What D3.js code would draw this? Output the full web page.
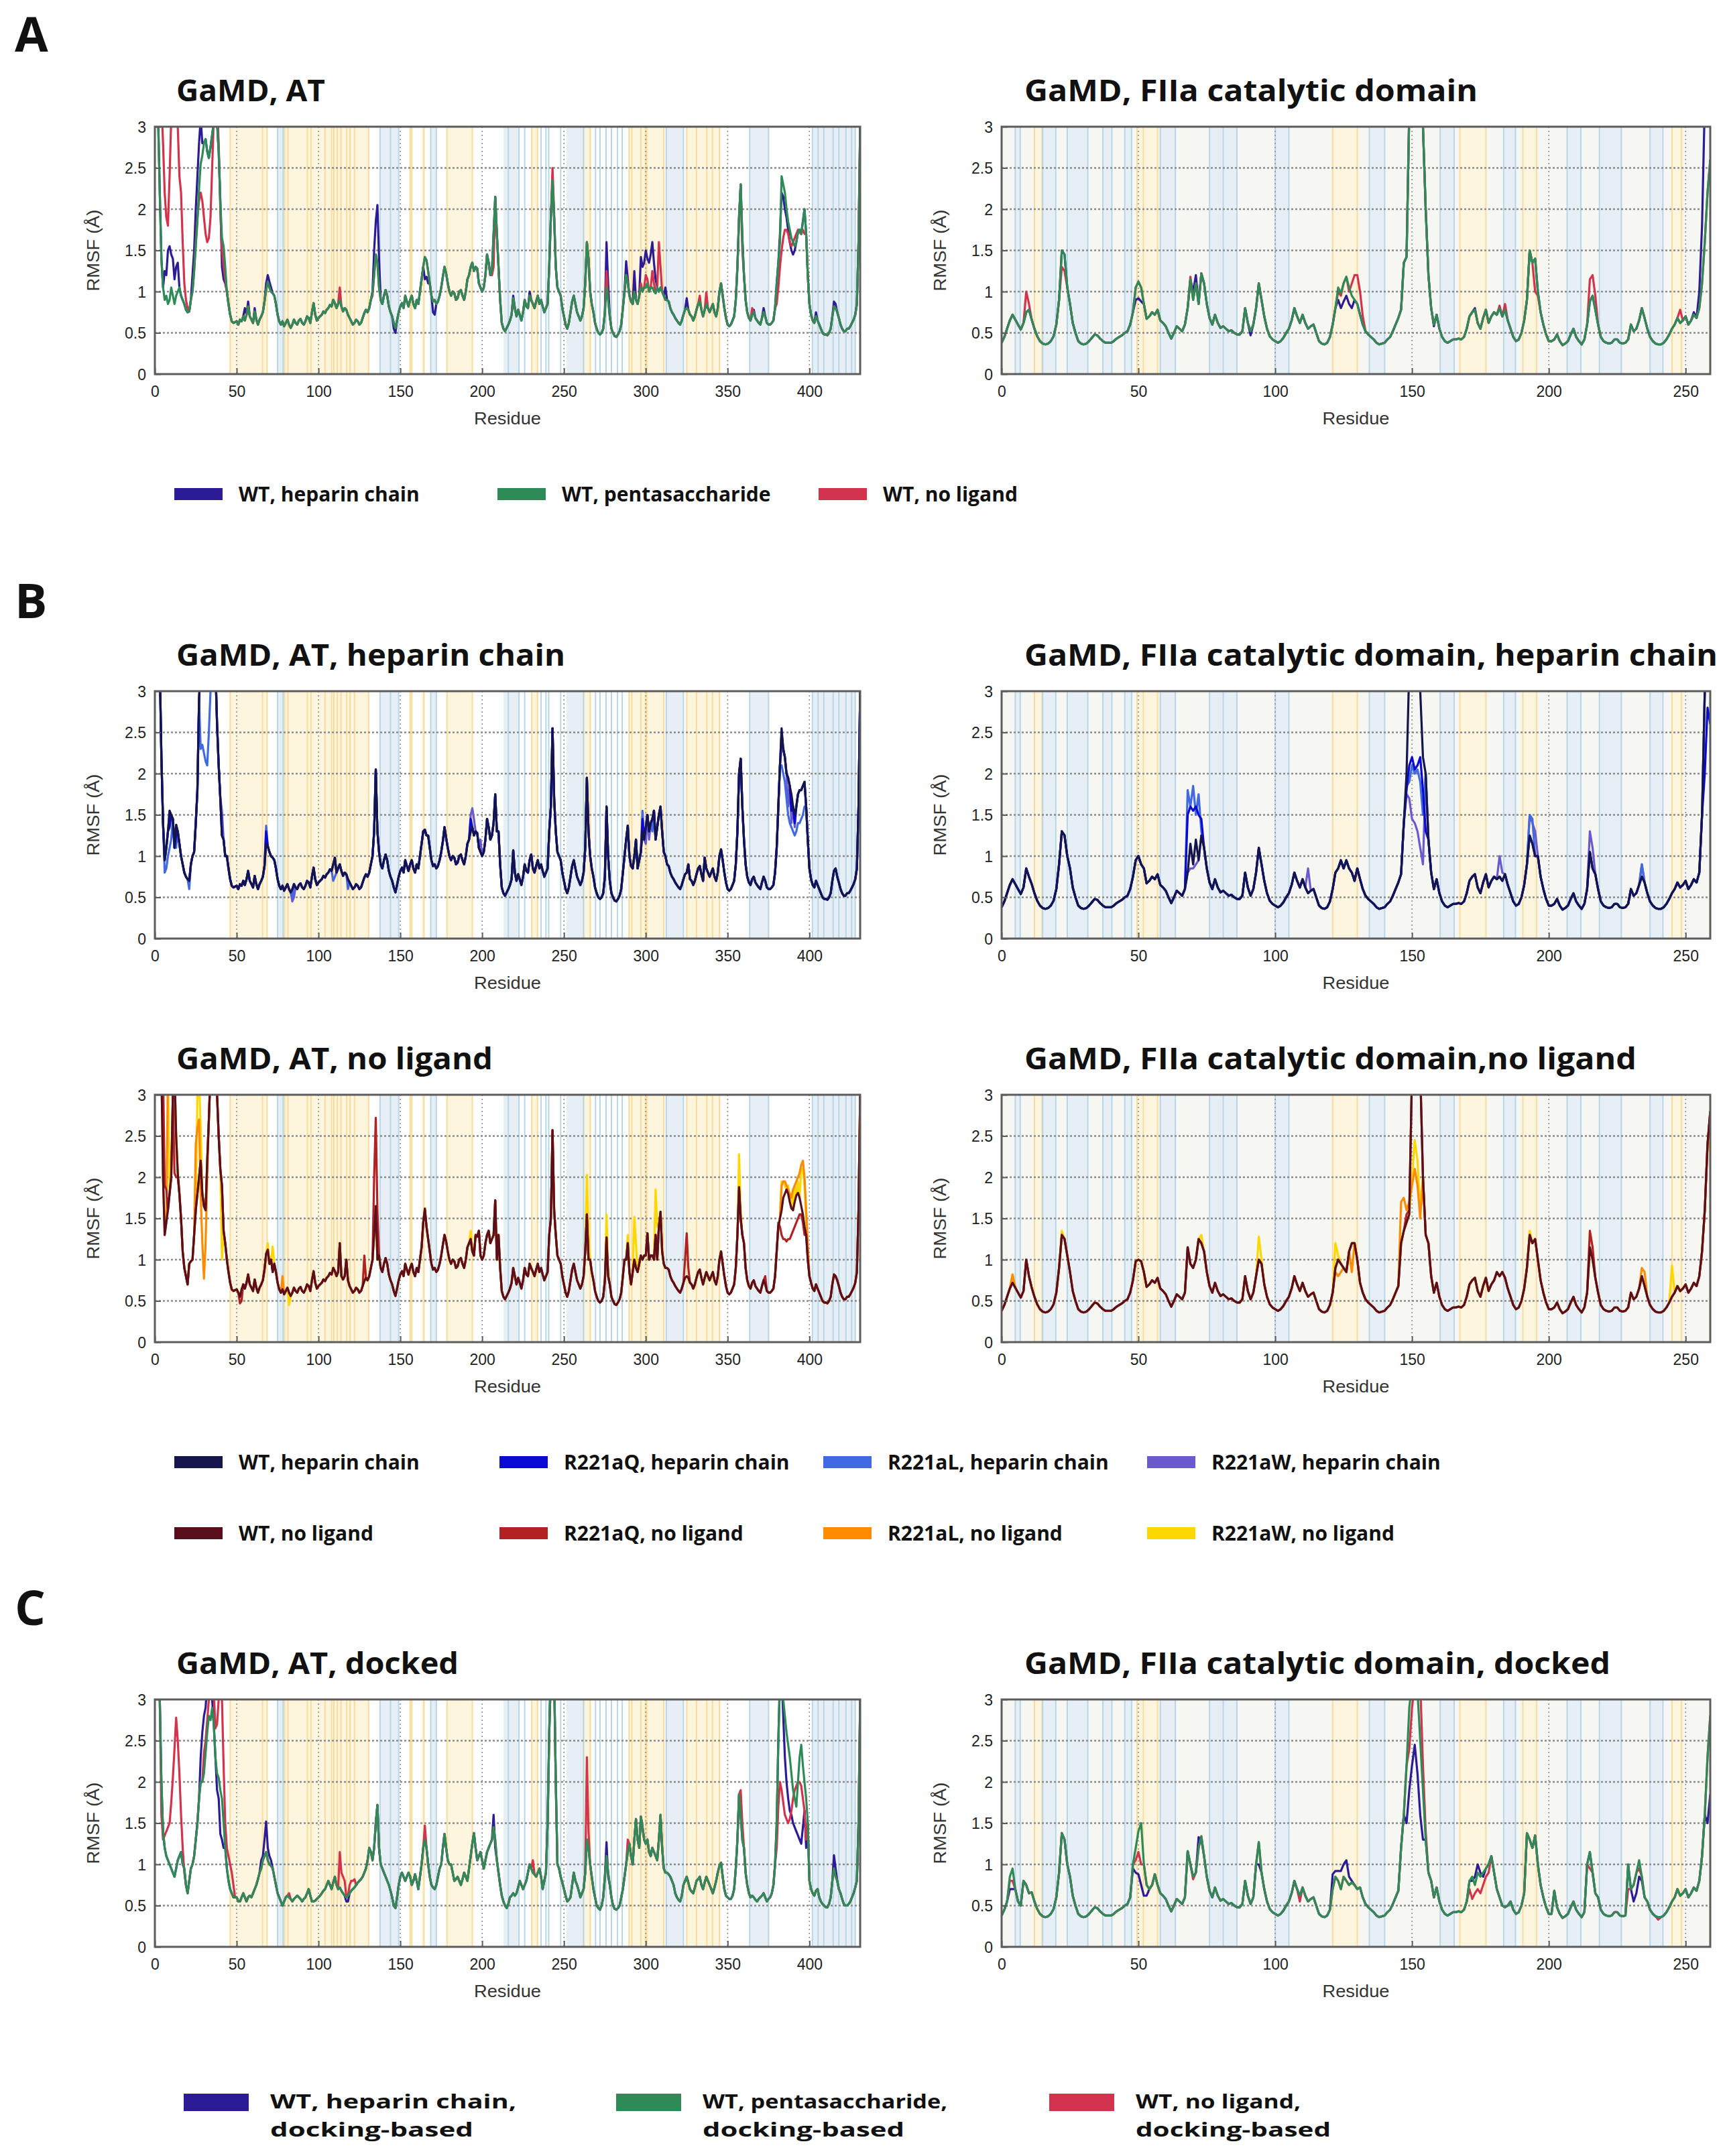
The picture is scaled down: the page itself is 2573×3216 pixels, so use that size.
<!DOCTYPE html>
<html><head><meta charset="utf-8">
<script src="https://cdn.jsdelivr.net/npm/d3@7"></script>
<style>body{margin:0;background:#fff}svg{display:block}</style>
</head><body>
<svg id="chart" width="2573" height="3216"></svg>
<script>
// ================= DATA =================
const AT_TICKS = [0,50,100,150,200,250,300,350,400];
const FIIA_TICKS = [0,50,100,150,200,250];
const Y_TICKS = [0,0.5,1,1.5,2,2.5,3];
const AT_MAX = 431, FIIA_MAX = 259;

// AT RMSF, residues 1..431 (GaMD, WT pentasaccharide)
const AT_BASE = [
3.2,3.1,2.2,1.4,1.05,0.9,0.95,0.85,0.9,1.05,
0.95,0.85,0.95,1.0,1.05,0.95,0.9,0.85,0.78,0.75,
0.76,0.9,1.0,1.25,1.55,1.85,2.25,2.55,2.65,2.8,
2.85,2.7,2.62,2.75,2.9,3.05,3.1,3.05,2.7,2.1,
1.65,1.55,1.3,1.0,0.85,0.72,0.64,0.62,0.63,0.64,
0.6,0.66,0.64,0.7,0.65,0.72,0.82,0.7,0.66,0.62,
0.76,0.66,0.6,0.66,0.7,0.75,0.88,1.02,1.12,1.05,
1.0,0.98,0.95,0.85,0.72,0.64,0.6,0.64,0.58,0.62,
0.66,0.6,0.56,0.6,0.66,0.62,0.6,0.65,0.67,0.62,
0.6,0.64,0.7,0.68,0.62,0.75,0.86,0.72,0.65,0.68,
0.7,0.72,0.76,0.74,0.78,0.8,0.84,0.82,0.9,0.86,
0.8,0.85,0.9,0.82,0.76,0.8,0.78,0.72,0.68,0.64,
0.6,0.62,0.66,0.64,0.6,0.62,0.68,0.74,0.78,0.75,
0.8,0.9,1.0,1.2,1.45,1.35,1.05,0.9,0.85,0.95,
1.02,0.95,0.82,0.75,0.7,0.62,0.56,0.65,0.75,0.82,
0.86,0.8,0.95,0.88,0.82,0.9,0.95,0.85,0.8,0.9,
0.85,1.0,1.15,1.3,1.42,1.38,1.25,1.1,0.95,0.88,
0.9,0.85,0.88,0.95,1.05,1.18,1.3,1.22,1.1,1.0,
0.95,1.0,0.98,0.9,0.92,1.0,1.02,0.95,0.9,1.0,
1.15,1.2,1.3,1.35,1.25,1.3,1.28,1.1,1.05,1.0,
1.05,1.2,1.45,1.35,1.2,1.25,1.7,2.15,1.7,1.3,
0.9,0.62,0.55,0.52,0.56,0.6,0.65,0.72,0.92,0.8,
0.7,0.78,0.72,0.65,0.75,0.9,0.82,0.8,0.95,0.9,
0.85,0.8,0.88,0.95,0.85,0.9,0.82,0.75,0.8,0.85,
1.3,1.9,2.35,1.9,1.3,1.05,1.0,0.95,0.8,0.7,
0.6,0.55,0.62,0.75,0.88,0.95,0.85,0.75,0.7,0.65,
0.7,0.8,1.1,1.6,1.4,1.0,0.85,0.75,0.62,0.55,
0.5,0.48,0.5,0.55,0.75,1.05,0.9,0.7,0.55,0.5,
0.46,0.45,0.48,0.52,0.6,0.8,1.0,1.2,1.1,0.95,
0.88,0.85,1.0,0.9,0.85,0.95,1.05,1.0,1.05,1.05,
1.1,1.0,1.05,1.05,1.0,0.98,1.05,1.0,1.05,1.0,
0.95,0.9,0.9,0.88,0.8,0.75,0.72,0.68,0.65,0.62,
0.6,0.65,0.72,0.78,0.8,0.78,0.72,0.7,0.65,0.7,
0.78,0.85,0.88,0.78,0.7,0.78,0.85,0.8,0.75,0.8,
0.85,0.75,0.7,0.8,1.0,1.1,0.95,0.8,0.68,0.6,
0.58,0.6,0.65,0.7,0.9,1.3,1.9,2.3,1.65,1.2,
0.9,0.75,0.68,0.65,0.72,0.75,0.68,0.65,0.62,0.6,
0.68,0.75,0.7,0.62,0.6,0.6,0.62,0.65,0.8,1.1,
1.35,1.6,2.4,2.3,2.2,2.0,1.85,1.75,1.65,1.6,
1.55,1.6,1.72,1.75,1.7,1.85,2.0,1.7,1.2,0.85,
0.72,0.65,0.62,0.7,0.65,0.6,0.55,0.5,0.48,0.48,
0.47,0.5,0.55,0.7,0.82,0.8,0.75,0.68,0.6,0.55,
0.52,0.52,0.55,0.55,0.58,0.62,0.66,0.72,0.85,1.6,
3.0];

// AT RMSF docked, residues 1..431 (WT pentasaccharide, docking-based)
const AT_C_PENTA = [
3.3,3.3,3.0,2.0,1.4,1.2,1.1,1.05,1.0,0.95,
0.9,0.85,0.95,1.05,1.1,1.15,1.0,0.95,0.75,0.65,
0.8,0.95,1.0,1.1,1.3,1.5,1.8,2.0,2.0,2.1,
2.35,2.6,2.8,2.75,2.9,2.7,2.3,2.1,2.05,1.9,
1.8,1.5,1.2,0.95,0.8,0.7,0.65,0.6,0.6,0.6,
0.55,0.55,0.6,0.65,0.6,0.55,0.6,0.62,0.6,0.65,
0.7,0.75,0.82,0.9,0.95,1.05,1.1,1.15,1.05,1.0,
0.98,0.95,0.85,0.75,0.65,0.6,0.55,0.5,0.55,0.6,
0.62,0.6,0.58,0.55,0.58,0.6,0.62,0.6,0.58,0.55,
0.58,0.6,0.65,0.7,0.62,0.55,0.55,0.56,0.58,0.6,
0.62,0.65,0.68,0.7,0.75,0.8,0.75,0.7,0.78,0.85,
0.75,0.7,0.72,0.68,0.65,0.62,0.6,0.62,0.65,0.68,
0.7,0.72,0.75,0.78,0.8,0.82,0.85,0.9,0.95,1.05,
1.2,1.15,1.05,1.2,1.5,1.72,1.2,1.0,0.95,0.9,
0.85,0.8,0.75,0.68,0.6,0.5,0.47,0.6,0.75,0.85,
0.9,0.85,0.8,0.85,0.9,0.85,0.75,0.8,0.88,0.8,
0.7,0.85,1.0,1.2,1.3,1.2,1.0,0.85,0.75,0.72,
0.7,0.75,0.85,0.95,1.0,1.2,1.37,1.2,1.05,1.0,
1.0,0.9,0.8,0.82,0.85,0.8,0.75,0.82,0.9,0.85,
0.8,0.95,1.1,1.25,1.38,1.2,1.05,1.1,1.15,1.05,
0.95,1.05,1.15,1.2,1.25,1.3,1.45,1.3,1.05,0.9,
0.75,0.62,0.55,0.5,0.47,0.52,0.6,0.62,0.65,0.62,
0.65,0.72,0.8,0.75,0.7,0.75,0.8,0.9,1.0,0.95,
0.9,0.88,0.85,0.9,0.95,0.85,0.7,0.8,0.9,1.5,
2.6,3.3,3.3,3.3,2.0,1.0,0.95,0.85,0.78,0.7,
0.62,0.55,0.57,0.6,0.75,0.9,0.8,0.75,0.68,0.6,
0.65,0.7,0.9,1.3,1.2,1.0,0.85,0.7,0.6,0.5,
0.47,0.45,0.5,0.6,0.85,1.1,0.9,0.75,0.6,0.5,
0.46,0.45,0.47,0.5,0.6,0.7,0.85,1.0,1.15,1.25,
1.1,1.0,1.3,1.55,1.3,1.2,1.58,1.45,1.3,1.25,
1.3,1.15,1.1,1.2,1.15,1.1,1.05,1.3,1.6,1.2,
0.95,0.9,0.9,0.88,0.85,0.8,0.75,0.65,0.6,0.57,
0.55,0.62,0.75,0.8,0.85,0.78,0.7,0.67,0.65,0.72,
0.8,0.82,0.85,0.75,0.7,0.78,0.85,0.8,0.75,0.7,
0.65,0.72,0.8,0.9,0.98,1.02,0.85,0.7,0.62,0.6,
0.58,0.58,0.62,0.7,0.95,1.3,1.85,1.6,1.3,1.2,
0.9,0.75,0.65,0.6,0.62,0.6,0.57,0.55,0.58,0.6,
0.62,0.65,0.6,0.55,0.58,0.6,0.65,0.75,1.0,1.5,
2.5,3.2,3.2,3.0,2.8,2.6,2.45,2.3,2.1,1.9,
1.8,1.7,2.0,2.3,2.45,2.2,2.0,1.8,1.5,0.8,
0.7,0.65,0.62,0.68,0.7,0.6,0.55,0.52,0.5,0.48,
0.48,0.52,0.6,0.8,0.95,0.85,0.8,0.7,0.65,0.58,
0.52,0.5,0.5,0.52,0.55,0.6,0.65,0.72,0.8,1.5,
3.0];

// Panel A, AT: differences of the other two runs [residue, RMSF]
const AT_A_HEP_OV = [[6,1.25],[7,1.2],[8,1.5],[9,1.55],[10,1.45],[11,1.4],[12,1.15],[13,1.3],[14,1.35],[15,1.05],[16,0.95],[23,1.2],[24,1.5],[25,2.0],[26,2.4],[27,2.8],[28,3.1],[29,2.8],[41,1.3],[42,1.15],[43,1.1],[55,0.8],[57,0.88],[61,0.8],[68,1.1],[69,1.2],[70,1.12],[71,1.05],[134,1.5],[135,1.85],[136,2.05],[137,1.4],[146,0.55],[147,0.5],[165,1.15],[166,1.18],[167,1.1],[170,0.75],[171,0.72],[219,0.95],[229,1.0],[276,1.6],[277,1.1],[288,1.37],[289,1.15],[293,1.25],[297,1.42],[298,1.3],[299,1.35],[300,1.5],[301,1.4],[302,1.35],[303,1.45],[304,1.6],[305,1.35],[306,1.15],[312,1.05],[325,0.92],[366,0.78],[372,0.8],[382,1.7],[383,2.2],[384,2.15],[385,2.0],[386,1.9],[387,1.75],[388,1.6],[389,1.5],[390,1.45],[391,1.5],[404,0.75],[415,0.88],[416,0.85]];
const AT_A_NOLIG_OV = [[2,3.3],[3,3.3],[4,3.3],[5,2.8],[6,2.2],[7,1.9],[8,1.8],[9,2.4],[10,3.1],[11,3.3],[12,3.3],[13,3.3],[14,3.0],[15,2.4],[16,2.2],[17,1.6],[18,1.1],[19,0.9],[20,0.8],[25,1.6],[26,1.9],[27,2.1],[28,2.2],[29,2.1],[30,1.9],[31,1.7],[32,1.6],[33,1.65],[34,1.9],[35,2.5],[36,3.1],[37,3.3],[38,3.3],[39,2.8],[40,2.0],[41,1.5],[42,1.3],[43,1.15],[113,1.05],[133,0.95],[206,1.2],[207,1.3],[243,2.5],[244,1.95],[276,1.25],[297,1.1],[300,1.2],[301,1.15],[304,1.25],[305,1.1],[308,1.6],[309,1.3],[333,0.95],[337,0.99],[359,1.5],[365,0.8],[380,0.85],[381,1.05],[382,1.3],[383,1.5],[384,1.65],[385,1.75],[386,1.75],[387,1.7],[388,1.6],[389,1.55],[390,1.6],[391,1.65],[392,1.7],[393,1.75],[394,1.72],[395,1.7],[396,1.75],[397,1.7]];

// Panel B (heparin chain), AT
const AT_B1_WT_OV = [[2,3.3],[3,3.3],[4,2.2],[5,1.4],[6,0.95],[7,1.1],[8,1.3],[9,1.55],[10,1.5],[11,1.45],[12,1.1],[13,1.38],[14,1.3],[15,1.15],[16,1.0],[17,0.9],[18,0.8],[19,0.75],[20,0.72],[21,0.7],[22,0.9],[23,1.0],[24,1.05],[25,1.4],[26,1.8],[27,2.9],[28,3.3],[29,3.3],[30,3.3],[31,3.3],[32,3.3],[33,3.3],[34,3.3],[35,3.3],[36,3.3],[37,3.3],[38,2.6],[39,2.1],[40,1.7],[41,1.25],[42,1.2],[43,1.0],[68,1.15],[110,0.98],[134,1.3],[135,2.05],[136,1.3],[165,1.32],[166,1.25],[177,1.35],[207,1.4],[208,1.75],[209,1.3],[219,1.07],[230,1.02],[242,1.6],[243,2.55],[244,1.7],[264,1.95],[265,1.3],[276,1.6],[277,1.0],[288,1.2],[289,1.37],[290,1.0],[294,1.2],[298,1.3],[299,1.2],[300,1.35],[301,1.5],[302,1.3],[303,1.4],[304,1.45],[305,1.55],[306,1.2],[307,1.35],[308,1.5],[309,1.6],[310,1.3],[311,1.05],[312,1.0],[326,0.9],[336,0.98],[346,1.08],[357,2.0],[358,2.18],[359,1.6],[381,1.6],[382,2.1],[383,2.55],[384,2.3],[385,2.2],[386,2.0],[387,1.95],[388,1.85],[389,1.75],[390,1.6],[391,1.5],[392,1.6],[393,1.75],[394,1.8],[395,1.8],[396,1.85],[397,1.9],[398,1.6],[399,1.2],[416,0.85]];
const AT_B1_Q_OV = [[9,1.35],[13,1.25],[68,1.3],[193,1.45],[298,1.45],[383,2.5],[389,1.55],[391,1.4]];
const AT_B1_L_OV = [[6,0.8],[7,0.85],[8,1.0],[9,1.1],[10,1.2],[13,1.1],[21,0.6],[28,2.3],[29,2.35],[30,2.25],[31,2.15],[32,2.1],[33,2.5],[34,3.0],[68,1.37],[84,0.5],[109,0.7],[110,0.75],[118,0.6],[298,1.55],[304,1.3],[383,2.1],[384,2.0],[385,1.9],[386,1.7],[387,1.5],[388,1.4],[389,1.35],[390,1.3],[391,1.25],[392,1.3],[393,1.4],[394,1.4],[395,1.45],[396,1.5],[397,1.6]];
const AT_B1_W_OV = [[40,1.7],[41,1.55],[84,0.45],[85,0.5],[193,1.5],[194,1.58],[195,1.45],[196,1.3],[199,1.2],[300,1.15],[302,1.2],[383,2.3],[387,1.6],[389,1.4],[391,1.35]];

// Panel B (no ligand), AT
const AT_B2_WT_OV = [[2,3.3],[3,3.3],[4,3.3],[5,2.0],[6,1.3],[7,1.45],[8,1.6],[9,1.8],[10,2.0],[11,3.0],[12,3.3],[13,2.5],[14,2.05],[15,1.8],[16,1.5],[17,1.1],[18,0.9],[19,0.8],[20,0.7],[21,0.95],[22,0.98],[23,1.0],[24,1.3],[25,1.6],[26,1.8],[27,2.0],[28,2.2],[29,1.8],[30,1.65],[31,1.6],[32,2.2],[33,2.7],[34,3.3],[35,3.3],[36,3.3],[37,3.3],[38,3.0],[39,2.5],[40,2.1],[41,1.9],[42,1.35],[43,1.2],[44,1.0],[52,0.55],[68,1.07],[70,0.95],[72,0.85],[113,1.2],[114,0.8],[117,1.0],[118,0.75],[134,1.3],[135,1.65],[136,1.0],[164,1.45],[165,1.62],[166,1.4],[177,1.3],[193,1.25],[194,1.1],[195,1.05],[198,1.35],[203,1.3],[207,1.3],[208,1.72],[209,1.0],[219,0.9],[242,1.5],[243,2.57],[244,1.6],[264,1.55],[265,1.0],[276,1.27],[277,0.8],[288,1.0],[289,1.2],[290,0.85],[291,0.7],[301,1.32],[306,1.3],[307,1.0],[308,1.4],[309,1.58],[310,1.1],[311,0.95],[357,1.88],[358,1.5],[359,1.3],[381,1.4],[382,1.5],[383,1.6],[384,1.75],[385,1.8],[386,1.85],[387,1.8],[388,1.7],[389,1.62],[390,1.6],[391,1.7],[392,1.78],[393,1.81],[394,1.75],[395,1.65],[396,1.55],[397,1.4],[398,1.3],[399,1.0],[400,0.8]];
const AT_B2_Q_OV = [[5,3.3],[6,1.9],[7,1.85],[10,2.0],[12,2.05],[13,2.0],[14,2.0],[52,0.47],[53,0.5],[128,1.05],[134,2.0],[135,2.72],[136,1.6],[165,1.6],[324,1.0],[325,1.32],[326,0.9],[373,0.8],[381,1.45],[382,1.4],[383,1.3],[384,1.25],[385,1.25],[386,1.22],[387,1.25],[388,1.25],[389,1.3],[390,1.35],[391,1.4],[392,1.45],[393,1.5],[394,1.55],[395,1.55],[396,1.45],[397,1.3]];
const AT_B2_L_OV = [[8,3.3],[9,3.3],[10,3.3],[25,2.4],[26,2.6],[27,2.7],[28,1.8],[29,1.2],[30,0.77],[31,1.2],[32,2.0],[78,0.8],[383,1.9],[384,1.95],[385,1.95],[386,1.9],[387,1.85],[388,1.8],[389,1.75],[390,1.85],[391,1.9],[392,1.95],[393,2.0],[394,2.05],[395,2.15],[396,2.2],[397,2.0],[398,1.6],[399,1.2]];
const AT_B2_W_OV = [[5,3.3],[6,3.2],[7,3.0],[8,3.3],[26,3.0],[27,3.2],[28,2.6],[41,1.0],[69,1.2],[72,1.16],[82,0.45],[193,1.35],[264,2.03],[265,1.3],[276,1.55],[277,0.9],[289,1.3],[293,1.52],[294,1.2],[306,1.85],[307,1.4],[357,2.28],[358,1.6],[383,1.95],[384,1.93],[385,1.9],[387,1.9],[389,1.8],[391,1.9],[393,1.95],[395,2.1],[396,2.1],[397,1.9],[398,1.5]];

// Panel C (docked), AT
const AT_C_HEP_OV = [[28,2.3],[29,2.6],[30,2.8],[31,2.9],[32,3.2],[33,3.3],[34,3.2],[35,3.0],[36,2.7],[37,2.3],[38,1.9],[39,1.8],[40,1.37],[41,1.3],[42,1.2],[65,1.05],[66,1.1],[67,1.3],[68,1.52],[69,1.2],[70,1.1],[71,1.05],[117,0.55],[118,0.55],[207,1.6],[208,1.2],[276,1.27],[277,0.85],[382,3.3],[383,3.3],[384,2.8],[385,2.3],[386,2.0],[387,1.8],[388,1.65],[389,1.6],[390,1.5],[391,1.45],[392,1.4],[393,1.35],[394,1.3],[395,1.25],[396,1.45],[397,1.65],[398,1.2],[415,1.11],[416,0.95]];
const AT_C_NOLIG_OV = [[4,1.6],[5,1.3],[6,1.35],[7,1.4],[8,1.45],[9,1.5],[10,1.75],[11,2.05],[12,2.4],[13,2.78],[14,2.5],[15,2.1],[16,1.6],[17,1.2],[18,0.9],[30,2.35],[31,2.5],[32,2.75],[33,3.0],[34,3.3],[35,3.3],[36,3.1],[37,2.65],[38,2.7],[39,3.0],[40,3.3],[41,3.0],[42,2.2],[43,1.5],[44,1.2],[45,1.1],[46,1.0],[47,0.9],[48,0.75],[82,0.65],[113,1.15],[114,0.9],[115,0.85],[116,0.8],[119,0.75],[120,0.8],[121,0.8],[122,0.82],[151,0.9],[165,1.47],[231,1.05],[264,2.3],[265,1.4],[289,1.3],[358,1.9],[359,1.5],[380,1.2],[381,1.7],[382,2.0],[383,1.9],[384,1.75],[385,1.6],[386,1.55],[387,1.5],[388,1.55],[389,1.65],[390,1.8],[391,1.9],[392,1.95],[393,2.0],[394,2.0],[395,1.95],[396,1.8],[397,1.65],[398,1.3]];

// FIIa catalytic domain RMSF, residues 0..259 (GaMD, WT pentasaccharide)
const FIIA_BASE = [
0.38,0.45,0.55,0.65,0.72,0.66,0.6,0.54,0.62,0.75,
0.78,0.66,0.55,0.46,0.4,0.37,0.36,0.37,0.4,0.46,
0.6,0.9,1.5,1.45,1.05,0.85,0.62,0.5,0.4,0.37,
0.36,0.37,0.4,0.44,0.48,0.47,0.43,0.4,0.38,0.38,
0.38,0.4,0.43,0.45,0.47,0.5,0.52,0.6,0.75,1.05,
1.12,1.05,0.85,0.67,0.7,0.75,0.72,0.78,0.65,0.62,
0.58,0.5,0.43,0.5,0.58,0.55,0.52,0.6,0.8,1.15,
0.9,1.1,0.85,1.22,1.1,0.85,0.68,0.6,0.72,0.62,
0.56,0.58,0.55,0.52,0.53,0.5,0.48,0.48,0.52,0.8,
0.62,0.52,0.6,0.8,1.1,0.9,0.7,0.55,0.46,0.42,
0.4,0.38,0.4,0.44,0.5,0.55,0.65,0.8,0.7,0.62,
0.72,0.62,0.55,0.58,0.6,0.5,0.4,0.37,0.36,0.38,
0.45,0.6,0.8,1.05,0.98,1.1,1.18,1.05,0.95,0.9,
0.85,0.72,0.6,0.52,0.48,0.45,0.42,0.38,0.36,0.37,
0.38,0.42,0.45,0.52,0.6,0.68,0.78,1.35,1.42,3.2,
3.3,3.3,3.3,3.2,3.0,2.0,1.2,0.8,0.6,0.72,
0.55,0.45,0.4,0.38,0.4,0.42,0.42,0.43,0.42,0.45,
0.55,0.7,0.75,0.78,0.62,0.55,0.68,0.78,0.62,0.7,
0.75,0.72,0.8,0.7,0.78,0.65,0.55,0.45,0.4,0.42,
0.5,0.65,0.9,1.5,1.35,1.4,1.0,0.75,0.6,0.48,
0.4,0.4,0.42,0.48,0.4,0.35,0.37,0.4,0.48,0.55,
0.45,0.4,0.36,0.42,0.6,0.88,0.95,0.78,0.6,0.45,
0.4,0.38,0.37,0.38,0.42,0.42,0.38,0.37,0.38,0.42,
0.6,0.52,0.55,0.65,0.8,0.68,0.55,0.45,0.4,0.37,
0.36,0.36,0.38,0.42,0.48,0.55,0.6,0.68,0.62,0.65,
0.7,0.6,0.65,0.72,0.68,0.8,1.1,1.6,2.2,2.6];

const FIIA_A_HEP_OV = [[49,0.9],[50,0.92],[51,0.88],[70,1.0],[71,1.2],[91,0.47],[123,0.9],[124,0.8],[125,0.88],[126,0.95],[127,0.85],[128,0.8],[158,0.58],[173,0.8],[253,0.75],[255,1.0],[256,1.8],[257,3.3],[258,3.3],[259,3.3]];
const FIIA_A_NOLIG_OV = [[9,1.0],[10,0.85],[22,1.3],[23,1.25],[69,1.18],[123,1.0],[124,0.95],[127,1.0],[128,1.1],[129,1.2],[130,1.2],[131,1.0],[132,0.7],[182,0.83],[184,0.85],[195,1.0],[196,0.95],[215,1.15],[216,1.2],[217,0.95],[248,0.78]];

const FIIA_B1_WT_OV = [[9,0.85],[10,0.75],[22,1.3],[23,1.25],[24,1.0],[49,0.95],[50,1.0],[51,0.9],[69,1.15],[70,0.9],[71,1.2],[72,0.95],[73,1.25],[123,0.85],[124,0.95],[125,0.85],[126,0.95],[127,0.85],[128,0.8],[129,0.7],[147,1.4],[148,2.0],[149,3.3],[150,3.3],[151,3.3],[152,3.3],[153,3.0],[154,2.2],[182,0.75],[193,1.25],[194,1.15],[195,1.0],[215,1.05],[216,0.85],[234,0.75],[256,1.5],[257,3.0],[258,3.3],[259,3.3]];
const FIIA_B1_Q_OV = [[68,1.5],[69,1.6],[70,1.55],[71,1.6],[72,1.5],[73,1.45],[148,1.8],[149,2.1],[150,2.2],[151,2.05],[152,2.1],[153,2.2],[154,1.8],[155,1.3],[257,2.0],[258,2.8],[259,2.6]];
const FIIA_B1_L_OV = [[68,1.8],[69,1.6],[70,1.85],[71,1.5],[72,1.75],[73,1.3],[148,1.85],[149,1.9],[150,2.1],[151,2.0],[152,2.05],[153,1.9],[154,1.5],[193,1.5],[194,1.45],[234,0.9]];
const FIIA_B1_W_OV = [[69,0.85],[70,0.85],[71,0.9],[112,0.85],[148,1.75],[149,1.7],[150,1.45],[151,1.4],[152,1.3],[153,1.1],[154,0.9],[182,1.0],[183,0.8],[193,1.5],[194,1.4],[195,1.3],[215,1.3],[216,1.1],[234,0.9]];

const FIIA_B2_WT_OV = [[9,1.0],[10,0.8],[22,1.3],[23,1.25],[24,1.05],[49,0.98],[50,1.0],[51,0.98],[68,1.15],[69,0.95],[70,0.9],[71,1.0],[72,1.25],[73,1.2],[94,1.0],[95,0.95],[122,0.9],[123,1.0],[124,0.95],[125,0.9],[126,0.85],[127,1.1],[128,1.2],[129,1.2],[130,1.0],[146,1.2],[147,1.35],[148,1.45],[149,1.55],[150,3.3],[151,3.3],[152,3.3],[153,3.3],[154,2.0],[155,1.3],[181,0.85],[182,0.8],[183,0.85],[193,1.3],[194,1.2],[195,1.25],[196,1.0],[215,1.15],[216,1.0],[234,0.8],[258,2.4],[259,2.8]];
const FIIA_B2_Q_OV = [[148,1.55],[149,1.6],[215,1.35],[216,1.15]];
const FIIA_B2_L_OV = [[4,0.82],[122,0.85],[123,0.8],[124,0.85],[128,0.85],[146,1.7],[147,1.75],[148,1.6],[149,1.7],[150,1.9],[151,2.1],[152,1.9],[153,1.5],[234,0.9],[235,0.85]];
const FIIA_B2_W_OV = [[4,0.82],[22,1.35],[73,1.3],[94,1.28],[95,1.0],[122,1.2],[123,1.05],[124,0.95],[150,2.0],[151,2.45],[152,2.2],[153,1.6],[193,1.35],[245,0.93],[246,0.6],[258,2.3],[259,2.5]];

const FIIA_C_PENTA_OV = [[3,0.85],[4,0.95],[5,0.7],[6,0.55],[7,0.5],[8,0.8],[9,0.75],[10,0.65],[22,1.38],[23,1.3],[24,1.0],[48,1.0],[49,1.2],[50,1.4],[51,1.5],[52,1.0],[53,0.75],[54,0.7],[56,0.88],[57,0.75],[68,1.16],[69,1.0],[70,0.85],[71,0.9],[72,1.2],[73,1.34],[74,1.1],[93,1.0],[94,1.27],[95,0.9],[121,0.7],[122,0.85],[123,0.8],[124,0.7],[125,0.85],[126,0.8],[127,0.75],[128,0.78],[129,0.75],[130,0.7],[146,1.2],[147,1.6],[148,2.2],[149,2.9],[150,3.2],[151,3.2],[152,3.1],[153,2.5],[154,1.9],[155,1.3],[156,0.9],[171,0.8],[172,0.85],[173,0.75],[174,0.9],[175,0.85],[176,0.9],[177,0.95],[178,1.0],[179,1.1],[180,0.9],[181,0.7],[182,0.6],[183,0.5],[184,0.48],[185,0.5],[192,1.38],[193,1.3],[194,1.2],[195,1.35],[196,1.0],[202,0.68],[214,1.0],[215,1.15],[216,0.9],[217,0.65],[229,1.0],[230,0.7],[231,0.75],[232,0.9],[233,1.05],[234,0.85],[235,0.6],[247,0.7],[257,1.6],[258,2.3],[259,2.8]];
const FIIA_C_HEP_OV = [[3,0.7],[4,0.7],[48,0.95],[49,0.9],[50,0.88],[51,0.75],[52,0.62],[53,0.62],[72,1.33],[73,1.3],[94,1.0],[121,0.88],[122,0.92],[123,0.92],[124,0.92],[125,1.0],[126,1.05],[127,0.85],[128,0.8],[148,1.5],[149,1.9],[150,2.2],[151,2.45],[152,2.1],[153,1.6],[154,1.3],[172,0.8],[173,0.85],[174,1.0],[175,0.9],[176,0.85],[231,0.55],[232,0.65],[233,0.85],[234,0.8],[258,1.5],[259,1.85]];
const FIIA_C_NOLIG_OV = [[3,0.8],[4,0.8],[49,1.05],[50,1.15],[51,1.0],[70,0.82],[109,0.55],[149,2.4],[150,2.9],[151,3.2],[152,3.3],[153,3.2],[154,2.2],[155,1.4],[171,0.7],[172,0.58],[173,0.65],[174,0.7],[175,0.65],[176,0.75],[177,0.85],[178,0.9],[215,0.95],[229,0.7],[233,0.95],[240,0.33]];

// Secondary structure shading (residue ranges)
const AT_HELIX = [[46,68.6],[79.2,130.6],[155.5,157],[163,165],[178.5,194],[230,234.5],[262,266.5],[289.5,311],[325,345.5]];
const AT_HELIX_EDGES = [46,65.8,68.6,79.2,81.3,93.2,95.4,104,108,109.4,111.5,113.7,117.2,119.3,122,130.6,156,157,164.4,178.5,194,230.3,233.8,262,266,289.8,291.5,297,299.8,300.6,311,325,331,337.3,340.8,345];
const AT_STRAND = [[75,78.4],[137.6,149],[168.6,172],[213,223],[251.5,262],[312.5,323],[363.5,375],[401.5,428]];
const AT_STRAND_EDGES = [75,78.4,137.6,144,149,168.6,172,216,222.5,226,236,239,240.7,248,262,269.3,272,275.7,279,282.7,285.6,312.5,323,363.5,375,401.8,405.3,408.8,414.5,418,422.3,425.8,428];
const FIIA_HELIX = [[12,14.8],[49.5,57.5],[121,130],[167.5,177],[190.5,195.5],[245,249]];
const FIIA_HELIX_EDGES = [12,14.8,49.5,51.8,57,121,130,167.5,177,190.5,195.5,245,248.5];
const FIIA_STRAND = [[5,6.8],[15,20],[24,31.5],[37,40.3],[45,47.5],[58,63.5],[76,86],[100,105],[134.4,140],[160.3,165.4],[183.5,188],[206.7,211.7],[218.5,226.5],[237,241.7]];
const FIIA_STRAND_EDGES = [5,6.8,15,19.8,24,31.5,37,40.3,45,47.5,58,63.5,76,81,86,100,105,134.4,140,160.3,165.4,183.5,187.8,206.7,211.7,218.5,226.5,237,241.7];

// Text
const TITLES = ["GaMD, AT","GaMD, FIIa catalytic domain","GaMD, AT, heparin chain","GaMD, FIIa catalytic domain, heparin chain","GaMD, AT, no ligand","GaMD, FIIa catalytic domain,no ligand","GaMD, AT, docked","GaMD, FIIa catalytic domain, docked"];
const LEGEND_A = ["WT, heparin chain","WT, pentasaccharide","WT, no ligand"];
const LEGEND_B1 = ["WT, heparin chain","R221aQ, heparin chain","R221aL, heparin chain","R221aW, heparin chain"];
const LEGEND_B2 = ["WT, no ligand","R221aQ, no ligand","R221aL, no ligand","R221aW, no ligand"];
const LEGEND_C = [["WT, heparin chain,","docking-based"],["WT, pentasaccharide,","docking-based"],["WT, no ligand,","docking-based"]];

// ================= STYLE / LAYOUT =================
const C_HEP = "#2b1b94", C_PENTA = "#2e8b57", C_NOLIG = "#d2334d";
const C_B1 = ["#15154d","#0a0ad2","#4169e1","#6a5acd"];
const C_B2 = ["#5a0f1c","#b22222","#ff8c00","#ffd700"];
const LAY = {leftX0:231, leftW:1052, rightX0:1494, rightW:1057, plotH:369,
  rows:[189,1031,1633,2535], titleXL:263, titleXR:1528,
  titleW:[222,676,580,1034,472,913,421,874],
  legCW:[[367,303],[365,301],[246,291]]};

function build(base, start, ...ovs){
  const m = new Map();
  base.forEach((v,i)=>m.set(i+start,v));
  ovs.forEach(ov=>ov.forEach(([r,v])=>m.set(r,v)));
  return Array.from(m,([r,v])=>({r,v})).sort((a,b)=>a.r-b.r);
}

const svg = d3.select("#chart");
svg.append("rect").attr("width",2573).attr("height",3216).attr("fill","#fff");
const defs = svg.append("defs");
let clipN = 0;

function drawPlot(o){
  const x = d3.scaleLinear().domain([0,o.max]).range([o.x0,o.x0+o.w]);
  const y = d3.scaleLinear().domain([0,3]).range([o.yTop+LAY.plotH,o.yTop]);
  const g = svg.append("g");
  const id = "clip"+(clipN++);
  defs.append("clipPath").attr("id",id).append("rect")
    .attr("x",o.x0).attr("y",o.yTop).attr("width",o.w).attr("height",LAY.plotH);
  const pg = g.append("g").attr("clip-path",`url(#${id})`);
  if(o.bg) pg.append("rect").attr("x",o.x0).attr("y",o.yTop).attr("width",o.w).attr("height",LAY.plotH).attr("fill",o.bg);
  pg.selectAll(".hf").data(o.helix).join("rect").attr("x",d=>x(d[0])).attr("width",d=>x(d[1])-x(d[0]))
    .attr("y",o.yTop).attr("height",LAY.plotH).attr("fill","#fdf5de");
  pg.selectAll(".sf").data(o.strand).join("rect").attr("x",d=>x(d[0])).attr("width",d=>x(d[1])-x(d[0]))
    .attr("y",o.yTop).attr("height",LAY.plotH).attr("fill","#e6eff5");
  pg.selectAll(".he").data(o.helixE).join("line").attr("x1",d=>x(d)).attr("x2",d=>x(d))
    .attr("y1",o.yTop).attr("y2",o.yTop+LAY.plotH).attr("stroke","#f9dc9c").attr("stroke-width",2);
  pg.selectAll(".se").data(o.strandE).join("line").attr("x1",d=>x(d)).attr("x2",d=>x(d))
    .attr("y1",o.yTop).attr("y2",o.yTop+LAY.plotH).attr("stroke","#b9d5e8").attr("stroke-width",2);
  // grid
  pg.selectAll(".gy").data(Y_TICKS.filter(v=>v>0&&v<3)).join("line")
    .attr("x1",o.x0).attr("x2",o.x0+o.w).attr("y1",d=>y(d)).attr("y2",d=>y(d))
    .attr("stroke","#8c8c8c").attr("stroke-width",2.5).attr("stroke-dasharray","3,3");
  pg.selectAll(".gx").data(o.ticks.filter(v=>v>0)).join("line")
    .attr("x1",d=>x(d)).attr("x2",d=>x(d)).attr("y1",o.yTop).attr("y2",o.yTop+LAY.plotH)
    .attr("stroke","#8f8f8f").attr("stroke-width",1.6).attr("stroke-dasharray","2,4");
  // lines
  const line = d3.line().x(d=>x(d.r)).y(d=>y(d.v));
  o.series.forEach(s=>{
    pg.append("path").datum(s.data).attr("d",line).attr("fill","none")
      .attr("stroke",s.color).attr("stroke-width",3.2).attr("stroke-linejoin","round");
  });
  // frame
  g.append("rect").attr("x",o.x0).attr("y",o.yTop).attr("width",o.w).attr("height",LAY.plotH)
    .attr("fill","none").attr("stroke","#5c5c5c").attr("stroke-width",3);
  // axes
  const ax = g.append("g").attr("transform",`translate(0,${o.yTop+LAY.plotH})`)
    .call(d3.axisBottom(x).tickValues(o.ticks).tickSize(-9).tickFormat(d=>String(d)));
  const ay = g.append("g").attr("transform",`translate(${o.x0},0)`)
    .call(d3.axisLeft(y).tickValues(Y_TICKS).tickSize(-9).tickFormat(d=>String(d)));
  [ax,ay].forEach(a=>{
    a.select(".domain").remove();
    a.selectAll(".tick line").attr("stroke","#5c5c5c").attr("stroke-width",2);
    a.selectAll("text").attr("font-family","'Liberation Sans',Arial,sans-serif")
      .attr("font-size",23).attr("fill","#222");
  });
  ax.selectAll("text").attr("y",34).attr("dy",0);
  ay.selectAll("text").attr("x",-13).attr("dy","0.36em");
  g.append("text").attr("x",o.x0+o.w/2).attr("y",o.yTop+LAY.plotH+75).attr("text-anchor","middle")
    .attr("font-family","'Liberation Sans',Arial,sans-serif").attr("font-size",25).attr("fill","#333")
    .attr("textLength",100).attr("lengthAdjust","spacingAndGlyphs").text("Residue");
  g.append("text").attr("transform",`translate(${o.x0-92},${o.yTop+LAY.plotH/2}) rotate(-90)`)
    .attr("text-anchor","middle").attr("dy","0.35em")
    .attr("font-family","'Liberation Sans',Arial,sans-serif").attr("font-size",25).attr("fill","#333")
    .attr("textLength",122).attr("lengthAdjust","spacingAndGlyphs").text("RMSF (Å)");
  // title
  g.append("text").attr("x",o.titleX).attr("y",o.yTop-38)
    .attr("font-family","'Open Sans','Noto Sans',sans-serif").attr("font-weight",700).attr("font-size",44)
    .attr("fill","#111").attr("textLength",o.titleW).attr("lengthAdjust","spacingAndGlyphs").text(o.title);
}

function atPlot(row, series, ti){
  drawPlot({x0:LAY.leftX0,w:LAY.leftW,max:AT_MAX,yTop:LAY.rows[row],ticks:AT_TICKS,
    helix:AT_HELIX,helixE:AT_HELIX_EDGES,strand:AT_STRAND,strandE:AT_STRAND_EDGES,
    series,title:TITLES[ti],titleX:LAY.titleXL,titleW:LAY.titleW[ti]});
}
function fPlot(row, series, ti){
  drawPlot({x0:LAY.rightX0,w:LAY.rightW,max:FIIA_MAX,yTop:LAY.rows[row],ticks:FIIA_TICKS,bg:"#f6f6f3",
    helix:FIIA_HELIX,helixE:FIIA_HELIX_EDGES,strand:FIIA_STRAND,strandE:FIIA_STRAND_EDGES,
    series,title:TITLES[ti],titleX:LAY.titleXR,titleW:LAY.titleW[ti]});
}

// Row A
atPlot(0,[
  {data:build(AT_BASE,1,AT_A_HEP_OV),color:C_HEP},
  {data:build(AT_BASE,1,AT_A_NOLIG_OV),color:C_NOLIG},
  {data:build(AT_BASE,1),color:C_PENTA}],0);
fPlot(0,[
  {data:build(FIIA_BASE,0,FIIA_A_HEP_OV),color:C_HEP},
  {data:build(FIIA_BASE,0,FIIA_A_NOLIG_OV),color:C_NOLIG},
  {data:build(FIIA_BASE,0),color:C_PENTA}],1);
// Row B1
atPlot(1,[
  {data:build(AT_BASE,1,AT_B1_WT_OV,AT_B1_W_OV),color:C_B1[3]},
  {data:build(AT_BASE,1,AT_B1_WT_OV,AT_B1_L_OV),color:C_B1[2]},
  {data:build(AT_BASE,1,AT_B1_WT_OV,AT_B1_Q_OV),color:C_B1[1]},
  {data:build(AT_BASE,1,AT_B1_WT_OV),color:C_B1[0]}],2);
fPlot(1,[
  {data:build(FIIA_BASE,0,FIIA_B1_WT_OV,FIIA_B1_W_OV),color:C_B1[3]},
  {data:build(FIIA_BASE,0,FIIA_B1_WT_OV,FIIA_B1_L_OV),color:C_B1[2]},
  {data:build(FIIA_BASE,0,FIIA_B1_WT_OV,FIIA_B1_Q_OV),color:C_B1[1]},
  {data:build(FIIA_BASE,0,FIIA_B1_WT_OV),color:C_B1[0]}],3);
// Row B2
atPlot(2,[
  {data:build(AT_BASE,1,AT_B2_WT_OV,AT_B2_W_OV),color:C_B2[3]},
  {data:build(AT_BASE,1,AT_B2_WT_OV,AT_B2_L_OV),color:C_B2[2]},
  {data:build(AT_BASE,1,AT_B2_WT_OV,AT_B2_Q_OV),color:C_B2[1]},
  {data:build(AT_BASE,1,AT_B2_WT_OV),color:C_B2[0]}],4);
fPlot(2,[
  {data:build(FIIA_BASE,0,FIIA_B2_WT_OV,FIIA_B2_W_OV),color:C_B2[3]},
  {data:build(FIIA_BASE,0,FIIA_B2_WT_OV,FIIA_B2_L_OV),color:C_B2[2]},
  {data:build(FIIA_BASE,0,FIIA_B2_WT_OV,FIIA_B2_Q_OV),color:C_B2[1]},
  {data:build(FIIA_BASE,0,FIIA_B2_WT_OV),color:C_B2[0]}],5);
// Row C
atPlot(3,[
  {data:build(AT_C_PENTA,1,AT_C_HEP_OV),color:C_HEP},
  {data:build(AT_C_PENTA,1,AT_C_NOLIG_OV),color:C_NOLIG},
  {data:build(AT_C_PENTA,1),color:C_PENTA}],6);
fPlot(3,[
  {data:build(FIIA_BASE,0,FIIA_C_PENTA_OV,FIIA_C_HEP_OV),color:C_HEP},
  {data:build(FIIA_BASE,0,FIIA_C_PENTA_OV,FIIA_C_NOLIG_OV),color:C_NOLIG},
  {data:build(FIIA_BASE,0,FIIA_C_PENTA_OV),color:C_PENTA}],7);

// Panel letters
[["A",77],["B",922],["C",2424]].forEach(([t,yy])=>{
  svg.append("text").attr("x",22).attr("y",yy).attr("font-family","'Open Sans','Noto Sans',sans-serif")
    .attr("font-weight",700).attr("font-size",72).attr("fill","#111").text(t);
});

// Legends
function legendRow(labels, colors, xs, cy){
  labels.forEach((t,i)=>{
    svg.append("rect").attr("x",xs[i]).attr("y",cy-9).attr("width",72).attr("height",18).attr("fill",colors[i]);
    svg.append("text").attr("x",xs[i]+96).attr("y",cy).attr("dy","0.36em")
      .attr("font-family","'Open Sans','Noto Sans',sans-serif").attr("font-weight",700)
      .attr("font-size",30).attr("fill","#111").text(t);
  });
}
legendRow(LEGEND_A,[C_HEP,C_PENTA,C_NOLIG],[260,742,1221],737);
legendRow(LEGEND_B1,C_B1,[260,745,1228,1711],2181);
legendRow(LEGEND_B2,C_B2,[260,745,1228,1711],2287);
LEGEND_C.forEach((lines,i)=>{
  const xs=[274,919,1565], cols=[C_HEP,C_PENTA,C_NOLIG];
  svg.append("rect").attr("x",xs[i]).attr("y",3123).attr("width",97).attr("height",26).attr("fill",cols[i]);
  lines.forEach((s,j)=>{
    svg.append("text").attr("x",xs[i]+129).attr("y",3145+j*42)
      .attr("font-family","'Open Sans','Noto Sans',sans-serif").attr("font-weight",700)
      .attr("font-size",29).attr("fill","#111")
      .attr("textLength",LAY.legCW[i][j]).attr("lengthAdjust","spacingAndGlyphs").text(s);
  });
});
</script>
</body></html>
